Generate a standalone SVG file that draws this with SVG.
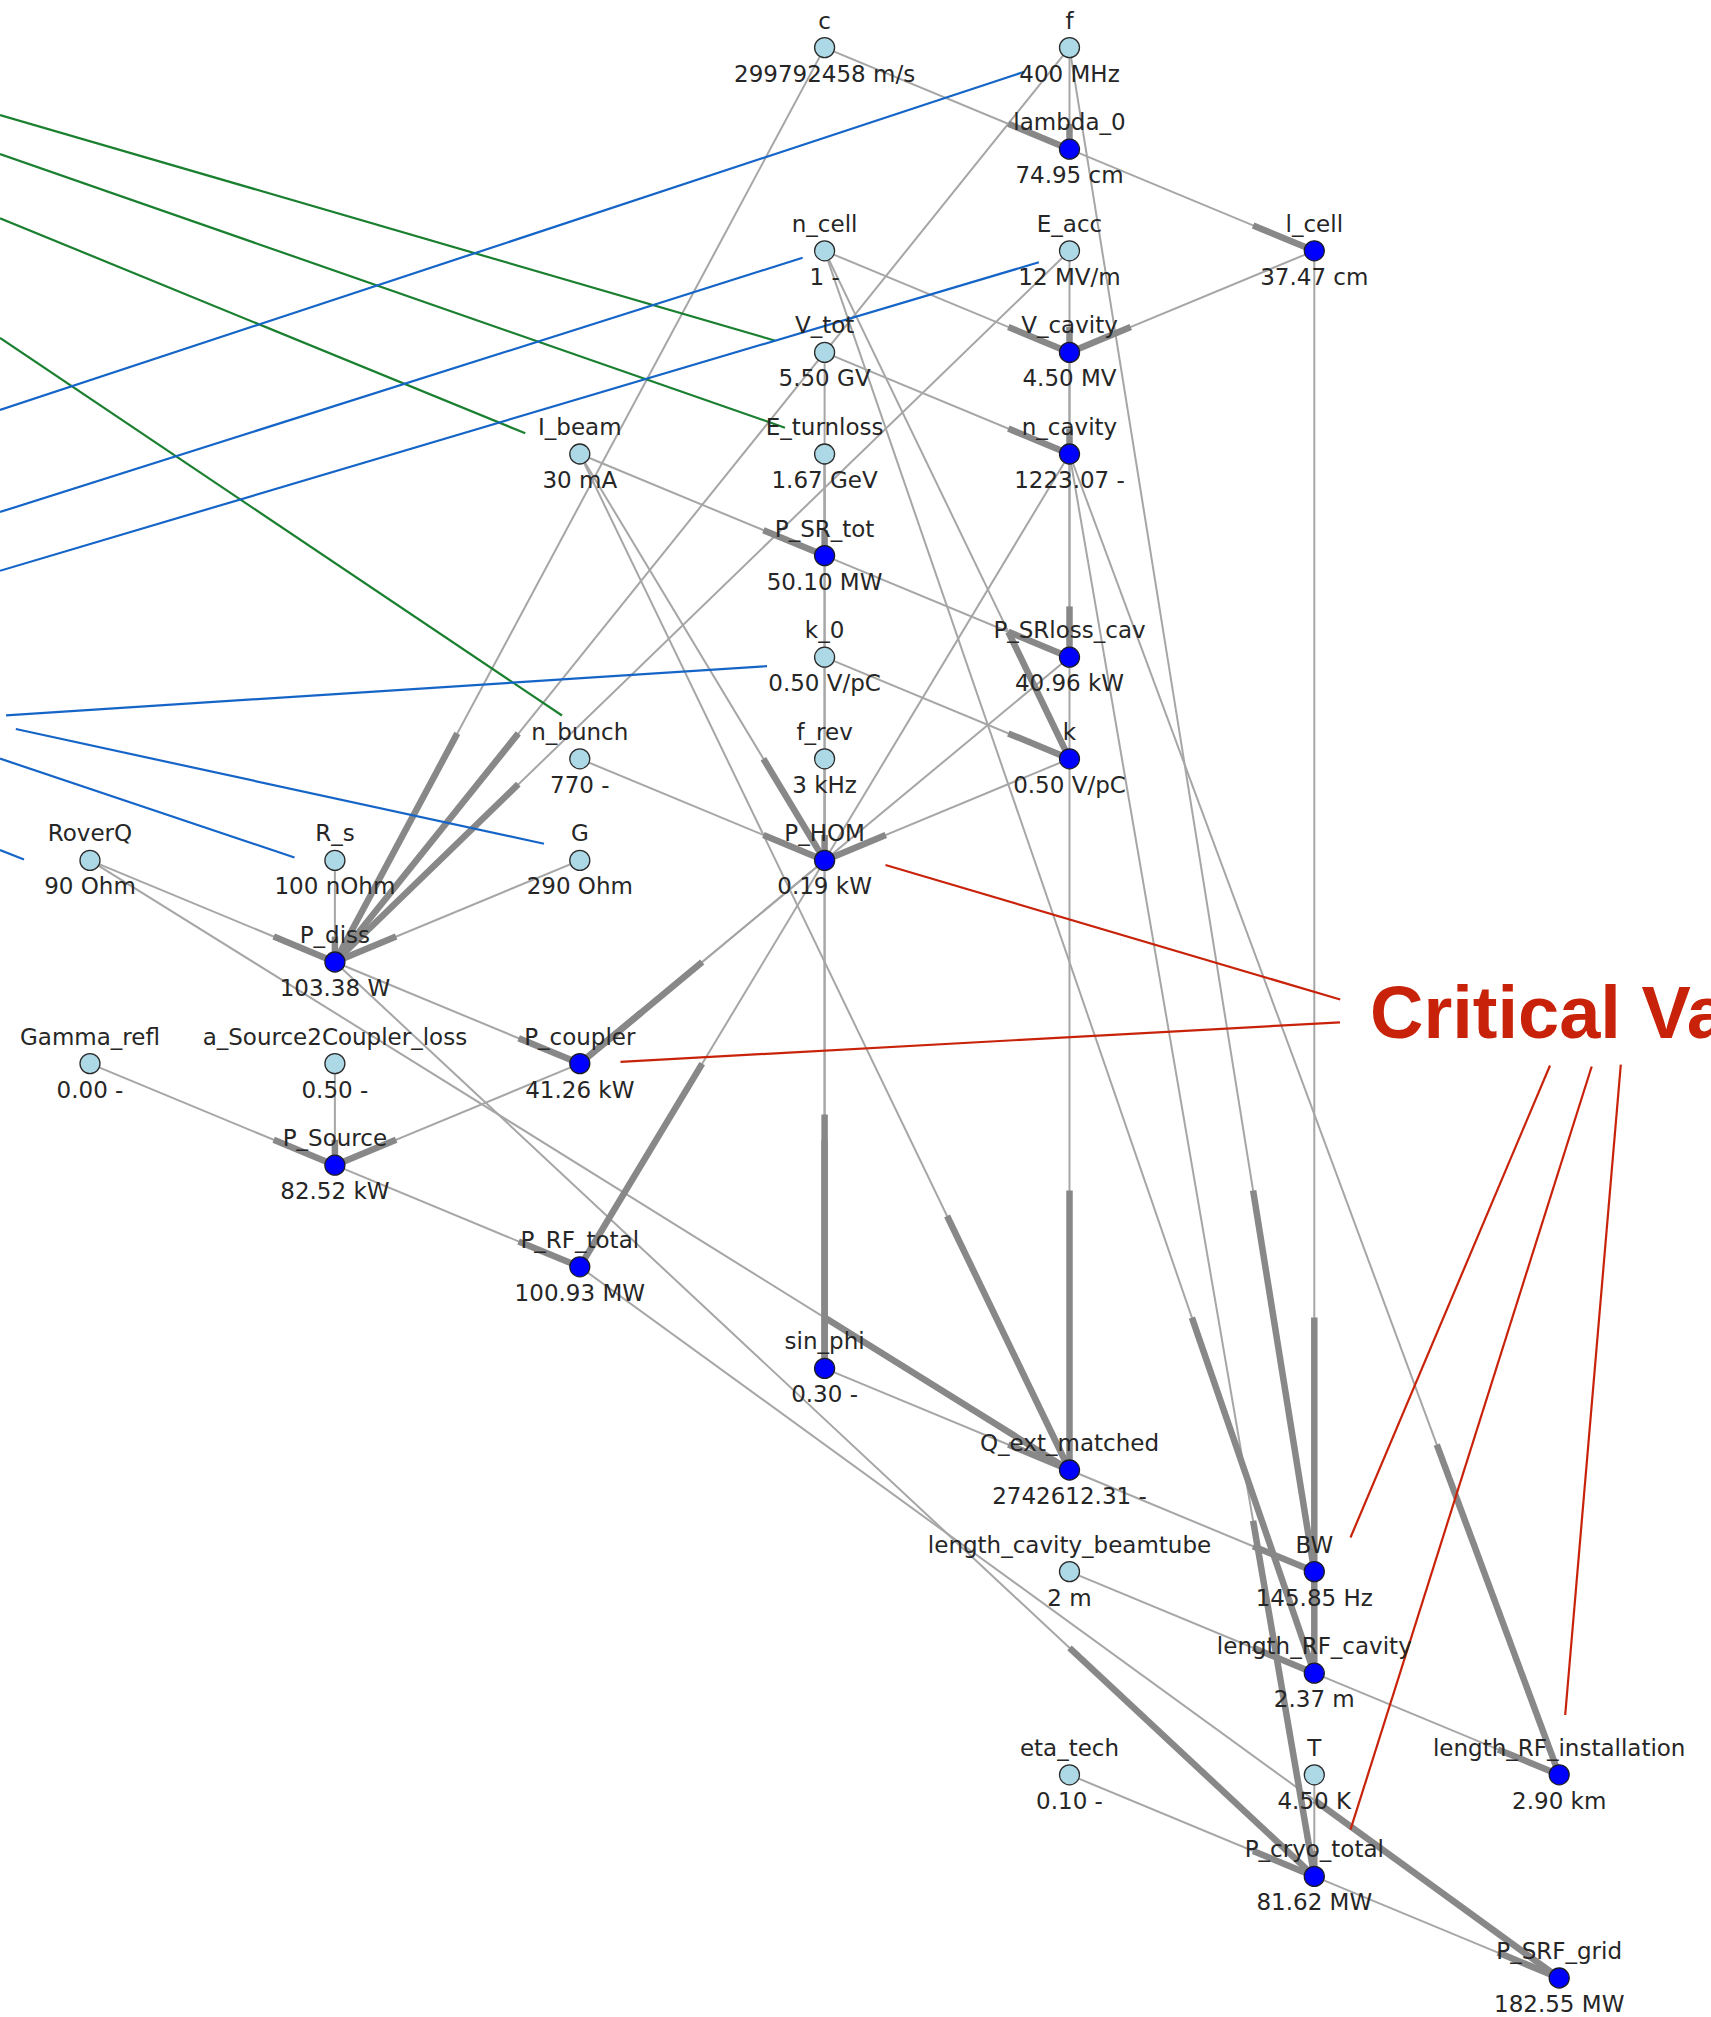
<svg xmlns="http://www.w3.org/2000/svg" width="1711" height="2017" viewBox="0 0 1711 2017">
<style>
.e{stroke:#a6a6a6;stroke-width:2;fill:none}
.h{stroke:#888888;stroke-width:6.5;fill:none}
.in{fill:#add8e6;stroke:#2a2a2a;stroke-width:1.3}
.out{fill:#0000ff;stroke:#1a1a2a;stroke-width:1.3}
text{font-family:'DejaVu Sans',sans-serif;font-size:23px;fill:#262626;text-anchor:middle}
.red{stroke:#c8230a;stroke-width:2.2;fill:none}
.grn{stroke:#1a8030;stroke-width:2.2;fill:none}
.blu{stroke:#1565c8;stroke-width:2.2;fill:none}
.crit{font-family:'Liberation Sans',Arial,sans-serif;font-size:74px;font-weight:bold;fill:#c8230a;text-anchor:start}
</style>
<rect width="1711" height="2017" fill="#ffffff"/>
<g id="edges">
<g id="thin">
<line class="e" x1="824.6" y1="47.6" x2="1069.5" y2="149.2"/>
<line class="e" x1="1069.5" y1="47.6" x2="1069.5" y2="149.2"/>
<line class="e" x1="1069.5" y1="149.2" x2="1314.3" y2="250.8"/>
<line class="e" x1="824.6" y1="250.8" x2="1069.5" y2="352.4"/>
<line class="e" x1="1069.5" y1="250.8" x2="1069.5" y2="352.4"/>
<line class="e" x1="1314.3" y1="250.8" x2="1069.5" y2="352.4"/>
<line class="e" x1="824.6" y1="352.4" x2="1069.5" y2="454.0"/>
<line class="e" x1="1069.5" y1="352.4" x2="1069.5" y2="454.0"/>
<line class="e" x1="824.6" y1="454.0" x2="824.6" y2="555.6"/>
<line class="e" x1="579.8" y1="454.0" x2="824.6" y2="555.6"/>
<line class="e" x1="824.6" y1="555.6" x2="1069.5" y2="657.2"/>
<line class="e" x1="1069.5" y1="454.0" x2="1069.5" y2="657.2"/>
<line class="e" x1="824.6" y1="657.2" x2="1069.5" y2="758.8"/>
<line class="e" x1="824.6" y1="250.8" x2="1069.5" y2="758.8"/>
<line class="e" x1="1069.5" y1="758.8" x2="824.6" y2="860.4"/>
<line class="e" x1="579.8" y1="758.8" x2="824.6" y2="860.4"/>
<line class="e" x1="579.8" y1="454.0" x2="824.6" y2="860.4"/>
<line class="e" x1="824.6" y1="758.8" x2="824.6" y2="860.4"/>
<line class="e" x1="824.6" y1="47.6" x2="334.9" y2="962.0"/>
<line class="e" x1="1069.5" y1="47.6" x2="334.9" y2="962.0"/>
<line class="e" x1="1069.5" y1="250.8" x2="334.9" y2="962.0"/>
<line class="e" x1="90.0" y1="860.4" x2="334.9" y2="962.0"/>
<line class="e" x1="334.9" y1="860.4" x2="334.9" y2="962.0"/>
<line class="e" x1="579.8" y1="860.4" x2="334.9" y2="962.0"/>
<line class="e" x1="1069.5" y1="657.2" x2="579.8" y2="1063.6"/>
<line class="e" x1="824.6" y1="860.4" x2="579.8" y2="1063.6"/>
<line class="e" x1="334.9" y1="962.0" x2="579.8" y2="1063.6"/>
<line class="e" x1="90.0" y1="1063.6" x2="334.9" y2="1165.2"/>
<line class="e" x1="334.9" y1="1063.6" x2="334.9" y2="1165.2"/>
<line class="e" x1="579.8" y1="1063.6" x2="334.9" y2="1165.2"/>
<line class="e" x1="334.9" y1="1165.2" x2="579.8" y2="1266.8"/>
<line class="e" x1="1069.5" y1="454.0" x2="579.8" y2="1266.8"/>
<line class="e" x1="824.6" y1="454.0" x2="824.6" y2="1368.4"/>
<line class="e" x1="824.6" y1="352.4" x2="824.6" y2="1368.4"/>
<line class="e" x1="1069.5" y1="352.4" x2="1069.5" y2="1470.0"/>
<line class="e" x1="90.0" y1="860.4" x2="1069.5" y2="1470.0"/>
<line class="e" x1="579.8" y1="454.0" x2="1069.5" y2="1470.0"/>
<line class="e" x1="824.6" y1="1368.4" x2="1069.5" y2="1470.0"/>
<line class="e" x1="1069.5" y1="47.6" x2="1314.3" y2="1571.6"/>
<line class="e" x1="1069.5" y1="1470.0" x2="1314.3" y2="1571.6"/>
<line class="e" x1="824.6" y1="250.8" x2="1314.3" y2="1673.2"/>
<line class="e" x1="1314.3" y1="250.8" x2="1314.3" y2="1673.2"/>
<line class="e" x1="1069.5" y1="1571.6" x2="1314.3" y2="1673.2"/>
<line class="e" x1="1314.3" y1="1673.2" x2="1559.2" y2="1774.8"/>
<line class="e" x1="1069.5" y1="454.0" x2="1559.2" y2="1774.8"/>
<line class="e" x1="1069.5" y1="454.0" x2="1314.3" y2="1876.4"/>
<line class="e" x1="334.9" y1="962.0" x2="1314.3" y2="1876.4"/>
<line class="e" x1="1069.5" y1="1774.8" x2="1314.3" y2="1876.4"/>
<line class="e" x1="1314.3" y1="1774.8" x2="1314.3" y2="1876.4"/>
<line class="e" x1="579.8" y1="1266.8" x2="1559.2" y2="1978.0"/>
<line class="e" x1="1314.3" y1="1876.4" x2="1559.2" y2="1978.0"/>
</g>
<g id="heads">
<line class="h" x1="1008.3" y1="123.8" x2="1069.5" y2="149.2"/>
<line class="h" x1="1069.5" y1="123.8" x2="1069.5" y2="149.2"/>
<line class="h" x1="1253.1" y1="225.4" x2="1314.3" y2="250.8"/>
<line class="h" x1="1008.3" y1="327.0" x2="1069.5" y2="352.4"/>
<line class="h" x1="1069.5" y1="327.0" x2="1069.5" y2="352.4"/>
<line class="h" x1="1130.7" y1="327.0" x2="1069.5" y2="352.4"/>
<line class="h" x1="1008.3" y1="428.6" x2="1069.5" y2="454.0"/>
<line class="h" x1="1069.5" y1="428.6" x2="1069.5" y2="454.0"/>
<line class="h" x1="824.6" y1="530.2" x2="824.6" y2="555.6"/>
<line class="h" x1="763.4" y1="530.2" x2="824.6" y2="555.6"/>
<line class="h" x1="1008.3" y1="631.8" x2="1069.5" y2="657.2"/>
<line class="h" x1="1069.5" y1="606.4" x2="1069.5" y2="657.2"/>
<line class="h" x1="1008.3" y1="733.4" x2="1069.5" y2="758.8"/>
<line class="h" x1="1008.3" y1="631.8" x2="1069.5" y2="758.8"/>
<line class="h" x1="885.8" y1="835.0" x2="824.6" y2="860.4"/>
<line class="h" x1="763.4" y1="835.0" x2="824.6" y2="860.4"/>
<line class="h" x1="763.4" y1="758.8" x2="824.6" y2="860.4"/>
<line class="h" x1="824.6" y1="835.0" x2="824.6" y2="860.4"/>
<line class="h" x1="457.3" y1="733.4" x2="334.9" y2="962.0"/>
<line class="h" x1="518.3" y1="733.4" x2="334.9" y2="962.0"/>
<line class="h" x1="518.3" y1="784.2" x2="334.9" y2="962.0"/>
<line class="h" x1="273.7" y1="936.6" x2="334.9" y2="962.0"/>
<line class="h" x1="334.9" y1="936.6" x2="334.9" y2="962.0"/>
<line class="h" x1="396.1" y1="936.6" x2="334.9" y2="962.0"/>
<line class="h" x1="702.2" y1="962.0" x2="579.8" y2="1063.6"/>
<line class="h" x1="641.0" y1="1012.8" x2="579.8" y2="1063.6"/>
<line class="h" x1="518.6" y1="1038.2" x2="579.8" y2="1063.6"/>
<line class="h" x1="273.7" y1="1139.8" x2="334.9" y2="1165.2"/>
<line class="h" x1="334.9" y1="1139.8" x2="334.9" y2="1165.2"/>
<line class="h" x1="396.1" y1="1139.8" x2="334.9" y2="1165.2"/>
<line class="h" x1="518.6" y1="1241.4" x2="579.8" y2="1266.8"/>
<line class="h" x1="702.2" y1="1063.6" x2="579.8" y2="1266.8"/>
<line class="h" x1="824.6" y1="1140.4" x2="824.6" y2="1368.4"/>
<line class="h" x1="824.6" y1="1114.4" x2="824.6" y2="1368.4"/>
<line class="h" x1="1069.5" y1="1190.6" x2="1069.5" y2="1470.0"/>
<line class="h" x1="824.6" y1="1317.6" x2="1069.5" y2="1470.0"/>
<line class="h" x1="947.1" y1="1216.0" x2="1069.5" y2="1470.0"/>
<line class="h" x1="1008.3" y1="1444.6" x2="1069.5" y2="1470.0"/>
<line class="h" x1="1253.1" y1="1190.6" x2="1314.3" y2="1571.6"/>
<line class="h" x1="1253.1" y1="1546.2" x2="1314.3" y2="1571.6"/>
<line class="h" x1="1191.9" y1="1317.6" x2="1314.3" y2="1673.2"/>
<line class="h" x1="1314.3" y1="1317.6" x2="1314.3" y2="1673.2"/>
<line class="h" x1="1253.1" y1="1647.8" x2="1314.3" y2="1673.2"/>
<line class="h" x1="1498.0" y1="1749.4" x2="1559.2" y2="1774.8"/>
<line class="h" x1="1436.8" y1="1444.6" x2="1559.2" y2="1774.8"/>
<line class="h" x1="1253.1" y1="1520.8" x2="1314.3" y2="1876.4"/>
<line class="h" x1="1069.5" y1="1647.8" x2="1314.3" y2="1876.4"/>
<line class="h" x1="1253.1" y1="1851.0" x2="1314.3" y2="1876.4"/>
<line class="h" x1="1314.3" y1="1851.0" x2="1314.3" y2="1876.4"/>
<line class="h" x1="1314.4" y1="1800.2" x2="1559.2" y2="1978.0"/>
<line class="h" x1="1498.0" y1="1952.6" x2="1559.2" y2="1978.0"/>
</g>
</g>
<g id="annotations">
<line class="grn" x1="0" y1="115" x2="775.4" y2="340.7"/>
<line class="grn" x1="0" y1="154" x2="785" y2="427.7"/>
<line class="grn" x1="0" y1="218.3" x2="525.3" y2="433.3"/>
<line class="grn" x1="0" y1="338" x2="562" y2="715.5"/>
<line class="blu" x1="0" y1="410" x2="1024.4" y2="71.7"/>
<line class="blu" x1="0" y1="512" x2="802.6" y2="257.7"/>
<line class="blu" x1="0" y1="570.8" x2="1038.9" y2="262.3"/>
<line class="blu" x1="6" y1="715.3" x2="767" y2="666.2"/>
<line class="blu" x1="15.8" y1="729" x2="544" y2="843.8"/>
<line class="blu" x1="0" y1="758.6" x2="294.5" y2="857.5"/>
<line class="blu" x1="0" y1="850" x2="24" y2="859.5"/>
<line class="red" x1="885.5" y1="865" x2="1340.2" y2="999.5"/>
<line class="red" x1="620.5" y1="1061.8" x2="1340" y2="1022.3"/>
<line class="red" x1="1350.5" y1="1537.5" x2="1550" y2="1065.5"/>
<line class="red" x1="1350.5" y1="1829.7" x2="1591.7" y2="1066.5"/>
<line class="red" x1="1565.2" y1="1715" x2="1620.8" y2="1064.6"/>
<text class="crit" x="1370" y="1038">Critical Va</text>
</g>
<g id="nodes">
<g id="n-c"><circle class="in" cx="824.6" cy="47.6" r="10"/><text x="824.6" y="28.6">c</text><text x="824.6" y="81.6">299792458 m/s</text></g>
<g id="n-f"><circle class="in" cx="1069.5" cy="47.6" r="10"/><text x="1069.5" y="28.6">f</text><text x="1069.5" y="81.6">400 MHz</text></g>
<g id="n-lambda_0"><circle class="out" cx="1069.5" cy="149.2" r="10"/><text x="1069.5" y="130.2">lambda_0</text><text x="1069.5" y="183.2">74.95 cm</text></g>
<g id="n-n_cell"><circle class="in" cx="824.6" cy="250.8" r="10"/><text x="824.6" y="231.8">n_cell</text><text x="824.6" y="284.8">1 -</text></g>
<g id="n-E_acc"><circle class="in" cx="1069.5" cy="250.8" r="10"/><text x="1069.5" y="231.8">E_acc</text><text x="1069.5" y="284.8">12 MV/m</text></g>
<g id="n-l_cell"><circle class="out" cx="1314.3" cy="250.8" r="10"/><text x="1314.3" y="231.8">l_cell</text><text x="1314.3" y="284.8">37.47 cm</text></g>
<g id="n-V_tot"><circle class="in" cx="824.6" cy="352.4" r="10"/><text x="824.6" y="333.4">V_tot</text><text x="824.6" y="386.4">5.50 GV</text></g>
<g id="n-V_cavity"><circle class="out" cx="1069.5" cy="352.4" r="10"/><text x="1069.5" y="333.4">V_cavity</text><text x="1069.5" y="386.4">4.50 MV</text></g>
<g id="n-I_beam"><circle class="in" cx="579.8" cy="454.0" r="10"/><text x="579.8" y="435.0">I_beam</text><text x="579.8" y="488.0">30 mA</text></g>
<g id="n-E_turnloss"><circle class="in" cx="824.6" cy="454.0" r="10"/><text x="824.6" y="435.0">E_turnloss</text><text x="824.6" y="488.0">1.67 GeV</text></g>
<g id="n-n_cavity"><circle class="out" cx="1069.5" cy="454.0" r="10"/><text x="1069.5" y="435.0">n_cavity</text><text x="1069.5" y="488.0">1223.07 -</text></g>
<g id="n-P_SR_tot"><circle class="out" cx="824.6" cy="555.6" r="10"/><text x="824.6" y="536.6">P_SR_tot</text><text x="824.6" y="589.6">50.10 MW</text></g>
<g id="n-k_0"><circle class="in" cx="824.6" cy="657.2" r="10"/><text x="824.6" y="638.2">k_0</text><text x="824.6" y="691.2">0.50 V/pC</text></g>
<g id="n-P_SRloss_cav"><circle class="out" cx="1069.5" cy="657.2" r="10"/><text x="1069.5" y="638.2">P_SRloss_cav</text><text x="1069.5" y="691.2">40.96 kW</text></g>
<g id="n-n_bunch"><circle class="in" cx="579.8" cy="758.8" r="10"/><text x="579.8" y="739.8">n_bunch</text><text x="579.8" y="792.8">770 -</text></g>
<g id="n-f_rev"><circle class="in" cx="824.6" cy="758.8" r="10"/><text x="824.6" y="739.8">f_rev</text><text x="824.6" y="792.8">3 kHz</text></g>
<g id="n-k"><circle class="out" cx="1069.5" cy="758.8" r="10"/><text x="1069.5" y="739.8">k</text><text x="1069.5" y="792.8">0.50 V/pC</text></g>
<g id="n-RoverQ"><circle class="in" cx="90.0" cy="860.4" r="10"/><text x="90.0" y="841.4">RoverQ</text><text x="90.0" y="894.4">90 Ohm</text></g>
<g id="n-R_s"><circle class="in" cx="334.9" cy="860.4" r="10"/><text x="334.9" y="841.4">R_s</text><text x="334.9" y="894.4">100 nOhm</text></g>
<g id="n-G"><circle class="in" cx="579.8" cy="860.4" r="10"/><text x="579.8" y="841.4">G</text><text x="579.8" y="894.4">290 Ohm</text></g>
<g id="n-P_HOM"><circle class="out" cx="824.6" cy="860.4" r="10"/><text x="824.6" y="841.4">P_HOM</text><text x="824.6" y="894.4">0.19 kW</text></g>
<g id="n-P_diss"><circle class="out" cx="334.9" cy="962.0" r="10"/><text x="334.9" y="943.0">P_diss</text><text x="334.9" y="996.0">103.38 W</text></g>
<g id="n-Gamma_refl"><circle class="in" cx="90.0" cy="1063.6" r="10"/><text x="90.0" y="1044.6">Gamma_refl</text><text x="90.0" y="1097.6">0.00 -</text></g>
<g id="n-a_Source2Coupler_loss"><circle class="in" cx="334.9" cy="1063.6" r="10"/><text x="334.9" y="1044.6">a_Source2Coupler_loss</text><text x="334.9" y="1097.6">0.50 -</text></g>
<g id="n-P_coupler"><circle class="out" cx="579.8" cy="1063.6" r="10"/><text x="579.8" y="1044.6">P_coupler</text><text x="579.8" y="1097.6">41.26 kW</text></g>
<g id="n-P_Source"><circle class="out" cx="334.9" cy="1165.2" r="10"/><text x="334.9" y="1146.2">P_Source</text><text x="334.9" y="1199.2">82.52 kW</text></g>
<g id="n-P_RF_total"><circle class="out" cx="579.8" cy="1266.8" r="10"/><text x="579.8" y="1247.8">P_RF_total</text><text x="579.8" y="1300.8">100.93 MW</text></g>
<g id="n-sin_phi"><circle class="out" cx="824.6" cy="1368.4" r="10"/><text x="824.6" y="1349.4">sin_phi</text><text x="824.6" y="1402.4">0.30 -</text></g>
<g id="n-Q_ext_matched"><circle class="out" cx="1069.5" cy="1470.0" r="10"/><text x="1069.5" y="1451.0">Q_ext_matched</text><text x="1069.5" y="1504.0">2742612.31 -</text></g>
<g id="n-length_cavity_beamtube"><circle class="in" cx="1069.5" cy="1571.6" r="10"/><text x="1069.5" y="1552.6">length_cavity_beamtube</text><text x="1069.5" y="1605.6">2 m</text></g>
<g id="n-BW"><circle class="out" cx="1314.3" cy="1571.6" r="10"/><text x="1314.3" y="1552.6">BW</text><text x="1314.3" y="1605.6">145.85 Hz</text></g>
<g id="n-length_RF_cavity"><circle class="out" cx="1314.3" cy="1673.2" r="10"/><text x="1314.3" y="1654.2">length_RF_cavity</text><text x="1314.3" y="1707.2">2.37 m</text></g>
<g id="n-eta_tech"><circle class="in" cx="1069.5" cy="1774.8" r="10"/><text x="1069.5" y="1755.8">eta_tech</text><text x="1069.5" y="1808.8">0.10 -</text></g>
<g id="n-T"><circle class="in" cx="1314.3" cy="1774.8" r="10"/><text x="1314.3" y="1755.8">T</text><text x="1314.3" y="1808.8">4.50 K</text></g>
<g id="n-length_RF_installation"><circle class="out" cx="1559.2" cy="1774.8" r="10"/><text x="1559.2" y="1755.8">length_RF_installation</text><text x="1559.2" y="1808.8">2.90 km</text></g>
<g id="n-P_cryo_total"><circle class="out" cx="1314.3" cy="1876.4" r="10"/><text x="1314.3" y="1857.4">P_cryo_total</text><text x="1314.3" y="1910.4">81.62 MW</text></g>
<g id="n-P_SRF_grid"><circle class="out" cx="1559.2" cy="1978.0" r="10"/><text x="1559.2" y="1959.0">P_SRF_grid</text><text x="1559.2" y="2012.0">182.55 MW</text></g>
</g>
</svg>
